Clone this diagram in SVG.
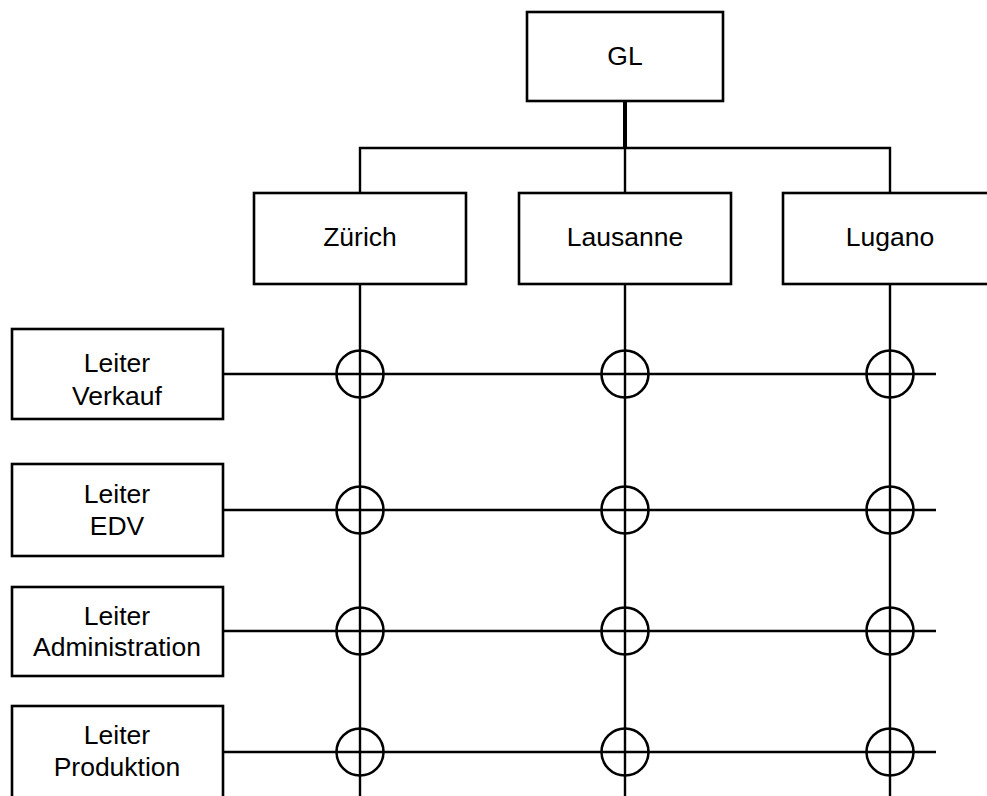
<svg xmlns="http://www.w3.org/2000/svg" width="987" height="796" viewBox="0 0 987 796">
<style>
rect{fill:#fff;stroke:#000;stroke-width:2.6}
text{font-family:"Liberation Sans",Arial,sans-serif;font-size:26.5px;fill:#000;text-anchor:middle}
.l{stroke:#000;stroke-width:2.4;fill:none}
.c{stroke:#000;stroke-width:2.6;fill:none}
</style>
<defs>
<circle id="ring" r="23.5" class="c"/>
</defs>
<g id="connectors">
<line class="l" x1="625" y1="101" x2="625" y2="148" style="stroke-width:4"/>
<polyline class="l" points="360,193 360,148 890,148 890,193"/>
<line class="l" x1="625" y1="148" x2="625" y2="193"/>
<line class="l" x1="360" y1="284" x2="360" y2="796"/>
<line class="l" x1="625" y1="284" x2="625" y2="796"/>
<line class="l" x1="890" y1="284" x2="890" y2="796"/>
<line class="l" x1="223" y1="374" x2="936" y2="374"/>
<line class="l" x1="223" y1="510" x2="936" y2="510"/>
<line class="l" x1="223" y1="631" x2="936" y2="631"/>
<line class="l" x1="223" y1="752" x2="936" y2="752"/>
<use href="#ring" x="360" y="374"/><use href="#ring" x="625" y="374"/><use href="#ring" x="890" y="374"/>
<use href="#ring" x="360" y="510"/><use href="#ring" x="625" y="510"/><use href="#ring" x="890" y="510"/>
<use href="#ring" x="360" y="631"/><use href="#ring" x="625" y="631"/><use href="#ring" x="890" y="631"/>
<use href="#ring" x="360" y="752"/><use href="#ring" x="625" y="752"/><use href="#ring" x="890" y="752"/>
</g>
<g id="gl"><rect x="527" y="12" width="196" height="89"/><text x="625" y="65">GL</text></g>
<g id="zuerich"><rect x="254" y="193" width="212" height="91"/><text x="360" y="246">Zürich</text></g>
<g id="lausanne"><rect x="519" y="193" width="212" height="91"/><text x="625" y="246">Lausanne</text></g>
<g id="lugano"><rect x="783" y="193" width="214" height="91"/><text x="890" y="246">Lugano</text></g>
<g id="verkauf"><rect x="12" y="329" width="211" height="90"/><text x="117" y="372">Leiter</text><text x="117" y="405">Verkauf</text></g>
<g id="edv"><rect x="12" y="464" width="211" height="92"/><text x="117" y="503">Leiter</text><text x="117" y="535">EDV</text></g>
<g id="administration"><rect x="12" y="587" width="211" height="89"/><text x="117" y="625">Leiter</text><text x="117" y="656">Administration</text></g>
<g id="produktion"><rect x="12" y="706" width="211" height="92"/><text x="117" y="744">Leiter</text><text x="117" y="776">Produktion</text></g>
</svg>
